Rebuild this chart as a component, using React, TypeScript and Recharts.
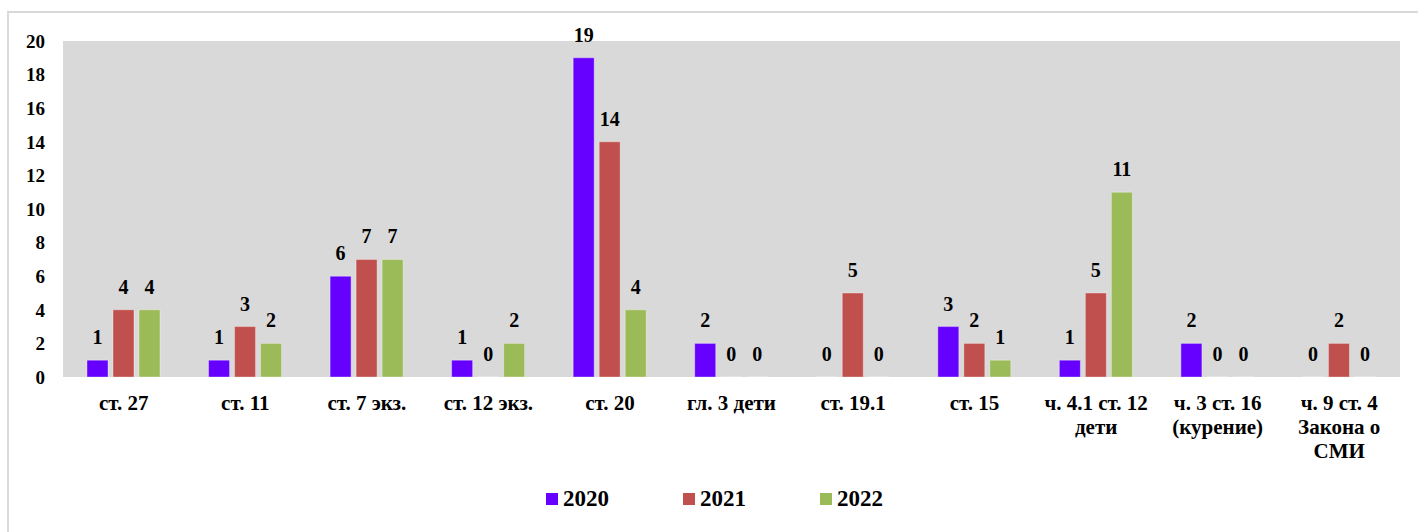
import React from "react";
import { BarChart, Bar, XAxis, YAxis, CartesianGrid, LabelList } from "recharts";

const categories = [
  "ст. 27",
  "ст. 11",
  "ст. 7 экз.",
  "ст. 12 экз.",
  "ст. 20",
  "гл. 3 дети",
  "ст. 19.1",
  "ст. 15",
  "ч. 4.1 ст. 12\nдети",
  "ч. 3 ст. 16\n(курение)",
  "ч. 9 ст. 4\nЗакона о\nСМИ",
];
const values2020 = [1, 1, 6, 1, 19, 2, 0, 3, 1, 2, 0];
const values2021 = [4, 3, 7, 0, 14, 0, 5, 2, 5, 0, 2];
const values2022 = [4, 2, 7, 2, 4, 0, 0, 1, 11, 0, 0];
const yTicks = [0, 2, 4, 6, 8, 10, 12, 14, 16, 18, 20];

const series = [
  { key: "y2020", name: "2020", color: "#6600FF" },
  { key: "y2021", name: "2021", color: "#C0504D" },
  { key: "y2022", name: "2022", color: "#9BBB59" },
];

const data = categories.map((c, i) => ({
  name: c,
  y2020: values2020[i],
  y2021: values2021[i],
  y2022: values2022[i],
}));

const FONT = `"Liberation Serif", "Tinos", "FreeSerif"`;

function CategoryTick(props: any) {
  const { x, y, payload } = props;
  const lines = String(payload.value).split("\n");
  return (
    <text
      x={x}
      y={y}
      textAnchor="middle"
      style={{ fontFamily: FONT, fontWeight: "bold", fontSize: 21 }}
      fill="#000"
    >
      {lines.map((l, i) => (
        <tspan key={i} x={x} dy={i === 0 ? 33 : 24}>
          {l}
        </tspan>
      ))}
    </text>
  );
}

export default function App() {
  return (
    <div
      style={{
        position: "fixed",
        left: 0,
        top: 0,
        width: 1418,
        height: 532,
        overflow: "hidden",
        background: "#fff",
        fontFamily: FONT,
      }}
    >
      <div
        style={{
          position: "absolute",
          left: 7,
          top: 11,
          width: 1500,
          height: 600,
          border: "2px solid #d9d9d9",
        }}
      />
      <div style={{ position: "absolute", left: 0, top: 0 }}>
        <BarChart
          width={1418}
          height={532}
          data={data}
          margin={{ top: 41, right: 18, bottom: 55, left: 0 }}
          barSize={21}
          barGap={5}
          style={{ fontFamily: FONT }}
        >
          <CartesianGrid
            horizontal={false}
            vertical={false}
            fill="#D9D9D9"
            stroke="none"
          />
          <XAxis
            dataKey="name"
            height={100}
            interval={0}
            tickLine={false}
            axisLine={false}
            tickSize={0}
            tickMargin={0}
            tick={<CategoryTick />}
          />
          <YAxis
            width={63}
            domain={[0, 20]}
            ticks={yTicks}
            interval={0}
            tickLine={false}
            axisLine={false}
            tickSize={0}
            tickMargin={18}
            tick={{
              fontFamily: FONT,
              fontWeight: "bold",
              fontSize: 19,
              fill: "#000",
            }}
          />
          {series.map((s) => (
            <Bar
              key={s.key}
              dataKey={s.key}
              name={s.name}
              fill={s.color}
              stroke="#ffffff"
              strokeOpacity={0.35}
              strokeWidth={1}
              minPointSize={0.01}
              isAnimationActive={false}
            >
              <LabelList
                dataKey={s.key}
                position="top"
                offset={16}
                style={{
                  fontFamily: FONT,
                  fontWeight: "bold",
                  fontSize: 20,
                  fill: "#000",
                }}
              />
            </Bar>
          ))}
        </BarChart>
      </div>
      <div
        style={{
          position: "absolute",
          left: 546,
          top: 486,
          display: "flex",
          fontWeight: "bold",
          fontSize: 23,
          color: "#000",
        }}
      >
        {series.map((s) => (
          <div
            key={s.key}
            style={{ width: 137, display: "flex", alignItems: "center" }}
          >
            <span
              style={{
                display: "inline-block",
                width: 12,
                height: 12,
                background: s.color,
                marginRight: 5,
              }}
            />
            <span>{s.name}</span>
          </div>
        ))}
      </div>
    </div>
  );
}
